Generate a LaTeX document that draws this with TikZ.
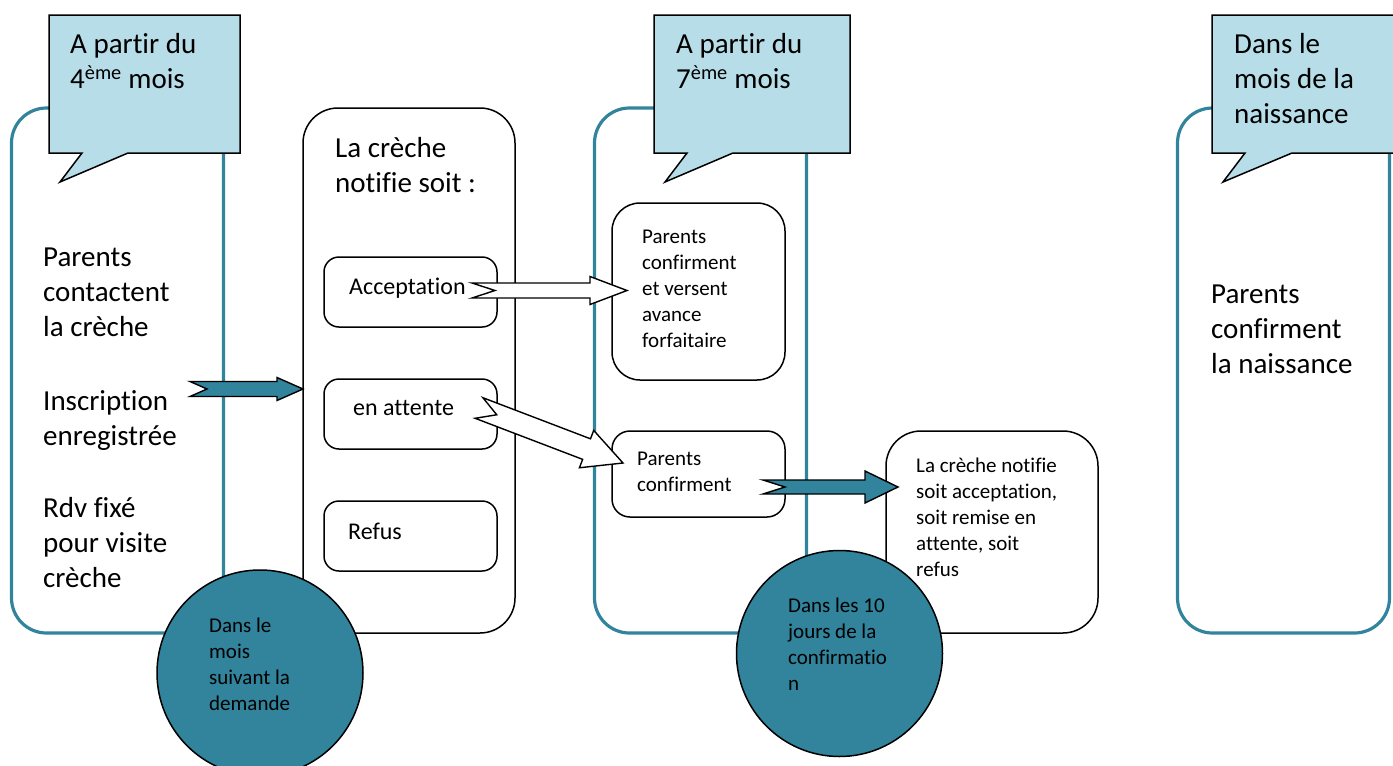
\documentclass[tikz,border=0pt]{standalone}
\usepackage{fontspec}
\setmainfont{Carlito}[Ligatures=NoCommon]
\usetikzlibrary{calc}

\definecolor{seablue}{HTML}{31849B}
\definecolor{calloutblue}{HTML}{B7DDE8}

% left-aligned lines whose reference point is the first baseline
\newcommand\stack[1]{\vtop{\halign{##\hfil\cr#1\crcr}}}
\newcommand\bigtxt{\fontsize{29}{35.3}\selectfont}
\newcommand\midtxt{\fontsize{24}{29}\selectfont}
\newcommand\smalltxt{\fontsize{21}{26}\selectfont}

% notched block arrow: #1 style, #2 tail, #3 tip,
% #4 shaft half-width, #5 head half-width, #6 head length, #7 notch depth
\newcommand\blockarrow[7]{%
  \path[#1] let \p1=(#2), \p2=(#3),
      \n1={atan2(\y2-\y1,\x2-\x1)}, \n2={veclen(\x2-\x1,\y2-\y1)}
    in ($(\p1)+(\n1+90:{(#4)*1pt})$)
    -- ($(\p1)+(\n1:{(\n2-#6)*1pt})+(\n1+90:{(#4)*1pt})$)
    -- ($(\p1)+(\n1:{(\n2-#6)*1pt})+(\n1+90:{(#5)*1pt})$)
    -- (\p2)
    -- ($(\p1)+(\n1:{(\n2-#6)*1pt})+(\n1-90:{(#5)*1pt})$)
    -- ($(\p1)+(\n1:{(\n2-#6)*1pt})+(\n1-90:{(#4)*1pt})$)
    -- ($(\p1)+(\n1-90:{(#4)*1pt})$)
    -- ($(\p1)+(\n1:{(#7)*1pt})$)
    -- cycle;}

\tikzset{
  column/.style={draw=seablue, line width=3.2pt, rounded corners=35pt,
    minimum width=212pt, minimum height=525pt, inner sep=0pt},
  panel/.style={draw=black, line width=1.5pt, fill=white, inner sep=0pt},
  callout/.style={draw=black, line width=1.5pt, fill=calloutblue, line join=miter},
  txt/.style={anchor=base west, inner sep=0pt, text=black},
  stage/.style={circle, draw=black, line width=1.5pt, fill=seablue,
    minimum size=206pt, inner sep=0pt},
  tealarrow/.style={draw=black, line width=1.4pt, fill=seablue, line join=miter},
  whitearrow/.style={draw=black, line width=1.4pt, fill=white, line join=miter},
}

\begin{document}
\begin{tikzpicture}[x=1pt, y=-1pt]
\useasboundingbox (0,0) rectangle (1393,766);
\clip (0,0) rectangle (1393,766);

% stage columns
\node[column] (col1) at (117.5,370.5) {};
\node[column] (col3) at (700.5,370.5) {};
\node[column] (col4) at (1283.5,370.5) {};
\node[panel, rounded corners=35pt, minimum width=212pt, minimum height=525pt,
  fill=none] (notify) at (409,370.5) {};

% speech-bubble headings
\draw[callout] (49,15) -- (240,15) -- (240,153) -- (128,153) -- (60,182)
  -- (82,153) -- (49,153) -- cycle;
\draw[callout] (654,15) -- (850,15) -- (850,153) -- (733,153) -- (665,182)
  -- (687,153) -- (654,153) -- cycle;
\draw[callout] (1212,15) -- (1410,15) -- (1410,153) -- (1292,153) -- (1223,182)
  -- (1245,153) -- (1212,153) -- cycle;
\node[txt] (h1) at (70,53) {\bigtxt\stack{A partir du\cr 4\textsuperscript{ème} mois}};
\node[txt] (h3) at (676,53) {\bigtxt\stack{A partir du\cr 7\textsuperscript{ème} mois}};
\node[txt] (h4) at (1234,53) {\bigtxt\stack{Dans le\cr mois de la\cr naissance}};

% first column
\node[txt] (c1a) at (43,266) {\bigtxt\stack{Parents\cr contactent\cr la crèche}};
\node[txt] (c1b) at (43,410) {\bigtxt\stack{Inscription\cr enregistrée}};
\node[txt] (c1c) at (43,517) {\bigtxt\stack{Rdv fixé\cr pour visite\cr crèche}};

% answers of the crèche
\node[txt] (c2) at (335,157) {\bigtxt\stack{La crèche\cr notifie soit :}};
\node[panel, rounded corners=15pt, minimum width=173pt, minimum height=70pt]
  (acc) at (410.5,292) {};
\node[panel, rounded corners=15pt, minimum width=173pt, minimum height=70pt]
  (wait) at (410.5,414) {};
\node[panel, rounded corners=15pt, minimum width=173pt, minimum height=70pt]
  (refus) at (410.5,536) {};
\node[txt] (acct) at (349,294) {\midtxt Acceptation};
\node[txt] (waitt) at (353,415) {\midtxt en attente};
\node[txt] (refust) at (348,539) {\midtxt Refus};

% third column
\node[panel, rounded corners=28pt, minimum width=173pt, minimum height=177pt]
  (conf1) at (698.5,291.5) {};
\node[panel, rounded corners=18pt, minimum width=173pt, minimum height=86pt]
  (conf2) at (698.5,474) {};
\node[txt] (conf1t) at (642,243) {\smalltxt\stack{Parents\cr confirment\cr et versent\cr avance\cr forfaitaire}};
\node[txt] (conf2t) at (637,465) {\smalltxt\stack{Parents\cr confirment}};

\node[panel, rounded corners=35pt, minimum width=212pt, minimum height=202pt]
  (answer) at (992,532) {};
\node[txt] (answert) at (916,472) {\smalltxt\stack{La crèche notifie\cr soit acceptation,\cr soit remise en\cr attente, soit\cr refus}};

% last column
\node[txt] (c4) at (1211,303) {\bigtxt\stack{Parents\cr confirment\cr la naissance}};

% block arrows
\coordinate (a1s) at (190,389);   \coordinate (a1e) at (303,389);
\coordinate (a2s) at (472,290.5); \coordinate (a2e) at (627,290.5);
\coordinate (a3s) at (479,408);   \coordinate (a3e) at (623,463);
\coordinate (a4s) at (763,487);   \coordinate (a4e) at (898,487);
\blockarrow{tealarrow}{a1s}{a1e}{7.5}{11.5}{26}{17}
\blockarrow{whitearrow}{a2s}{a2e}{7.5}{14}{37}{23}
\blockarrow{whitearrow}{a3s}{a3e}{11}{20}{39}{19}
\blockarrow{tealarrow}{a4s}{a4e}{7}{16}{33}{22}

% delays
\node[stage] (d1) at (260,673) {};
\node[stage] (d2) at (839.5,653.5) {};
\node[txt] (d1t) at (209,632) {\smalltxt\stack{Dans le\cr mois\cr suivant la\cr demande}};
\node[txt] (d2t) at (788,612) {\smalltxt\stack{Dans les 10\cr jours de la\cr confirmatio\cr n}};
\end{tikzpicture}
\end{document}
